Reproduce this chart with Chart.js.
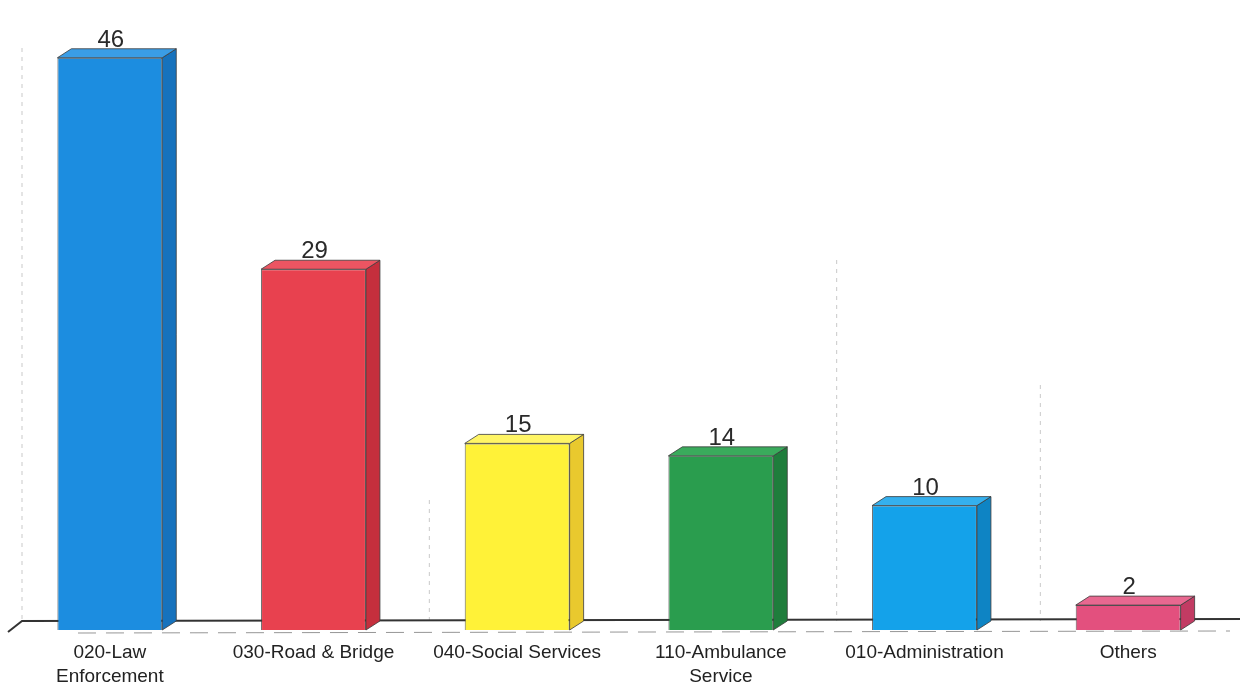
<!DOCTYPE html>
<html>
<head>
<meta charset="utf-8">
<script src="https://cdn.jsdelivr.net/npm/chart.js@4/dist/chart.umd.min.js"></script>
<style>
  html, body { margin: 0; padding: 0; background: #fff; }
  #wrap { width: 1240px; height: 686px; }
</style>
</head>
<body>
<div id="wrap"><canvas id="grafico"></canvas></div>
<script>
// categories and values
const categorias = [
    ['020-Law', 'Enforcement'],
    '030-Road & Bridge',
    '040-Social Services',
    ['110-Ambulance', 'Service'],
    '010-Administration',
    'Others'
];
const valores = [46, 29, 15, 14, 10, 2];

const corFrente = ['#1c8de0', '#e8414f', '#fff238', '#2a9d4e', '#14a2ea', '#e3507e'];
const corLado   = ['#1672bd', '#c52f3d', '#e9c92e', '#1f7d3c', '#0e84c4', '#c23b63'];
const corTopo   = ['#3a9de6', '#ec5562', '#fff565', '#3aab5c', '#34b0ee', '#e86890'];

// profundidade do efeito 3D
const DX = 14, DY = 9;

const plugin3D = {
    id: 'barras3d',
    beforeDatasetsDraw(chart) {
        const ctx = chart.ctx;
        const area = chart.chartArea;
        const base = chart.scales.y.getPixelForValue(0);

        ctx.save();
        // linhas verticais fracas
        ctx.strokeStyle = 'rgba(120,120,120,0.4)';
        ctx.setLineDash([4, 5]);
        ctx.lineWidth = 1;
        const xs = chart.scales.x;
        const inicio = [area.top + 40, 0, base - 130, 0, base - 370, base - 245];
        [0, 2, 4, 5].forEach(i => {
            const px = i === 0 ? area.left + DX : (xs.getPixelForValue(i - 1) + xs.getPixelForValue(i)) / 2 + DX;
            ctx.beginPath();
            ctx.moveTo(px, inicio[i]);
            ctx.lineTo(px, base - DY);
            ctx.stroke();
        });
        ctx.setLineDash([]);

        // piso
        ctx.strokeStyle = '#333';
        ctx.lineWidth = 2;
        ctx.beginPath();
        ctx.moveTo(area.left, base + 2);
        ctx.lineTo(area.left + DX, base - DY);
        ctx.lineTo(chart.width, base - DY - 2);
        ctx.stroke();

        ctx.strokeStyle = 'rgba(80,80,80,0.6)';
        ctx.lineWidth = 1;
        ctx.setLineDash([18, 10]);
        ctx.beginPath();
        ctx.moveTo(area.left + 70, base + 3);
        ctx.lineTo(chart.width - 10, base + 1);
        ctx.stroke();
        ctx.setLineDash([]);

        // faces laterais e de topo
        const meta = chart.getDatasetMeta(0);
        meta.data.forEach((bar, i) => {
            const p = bar.getProps(['x', 'y', 'base', 'width'], true);
            const l = p.x - p.width / 2;
            const r = p.x + p.width / 2;

            ctx.strokeStyle = 'rgba(60,60,60,0.8)';
            ctx.lineWidth = 1;

            ctx.fillStyle = corLado[i];
            ctx.beginPath();
            ctx.moveTo(r, p.y);
            ctx.lineTo(r + DX, p.y - DY);
            ctx.lineTo(r + DX, p.base - DY);
            ctx.lineTo(r, p.base);
            ctx.closePath();
            ctx.fill();
            ctx.stroke();

            ctx.fillStyle = corTopo[i];
            ctx.beginPath();
            ctx.moveTo(l, p.y);
            ctx.lineTo(l + DX, p.y - DY);
            ctx.lineTo(r + DX, p.y - DY);
            ctx.lineTo(r, p.y);
            ctx.closePath();
            ctx.fill();
            ctx.stroke();
        });
        ctx.restore();
    },
    afterDatasetsDraw(chart) {
        const ctx = chart.ctx;
        const meta = chart.getDatasetMeta(0);
        ctx.save();
        ctx.fillStyle = '#2a2a2a';
        ctx.font = '24px "Liberation Sans", Arial, sans-serif';
        ctx.textAlign = 'center';
        ctx.textBaseline = 'alphabetic';
        meta.data.forEach((bar, i) => {
            ctx.fillText(String(valores[i]), bar.x + 1, bar.y - DY - 2);
        });
        ctx.restore();
    }
};

new Chart(document.getElementById('grafico'), {
    type: 'bar',
    data: {
        labels: categorias,
        datasets: [{
            data: valores,
            backgroundColor: corFrente,
            borderColor: 'rgba(60,60,60,0.8)',
            borderWidth: 1,
            barPercentage: 0.515,
            categoryPercentage: 1
        }]
    },
    options: {
        responsive: true,
        maintainAspectRatio: false,
        animation: false,
        layout: { padding: { left: 8, right: 10, top: 8, bottom: 0 } },
        plugins: {
            legend: { display: false },
            tooltip: { enabled: false }
        },
        scales: {
            x: {
                grid: { display: false },
                border: { display: false },
                afterFit(scale) { scale.height = 56; },
                ticks: {
                    color: '#222',
                    padding: 3,
                    maxRotation: 0,
                    autoSkip: false,
                    font: { family: '"Liberation Sans", Arial, sans-serif', size: 19, lineHeight: 1.26 }
                }
            },
            y: {
                display: false,
                min: 0,
                max: 50
            }
        }
    },
    plugins: [plugin3D]
});
</script>
</body>
</html>
